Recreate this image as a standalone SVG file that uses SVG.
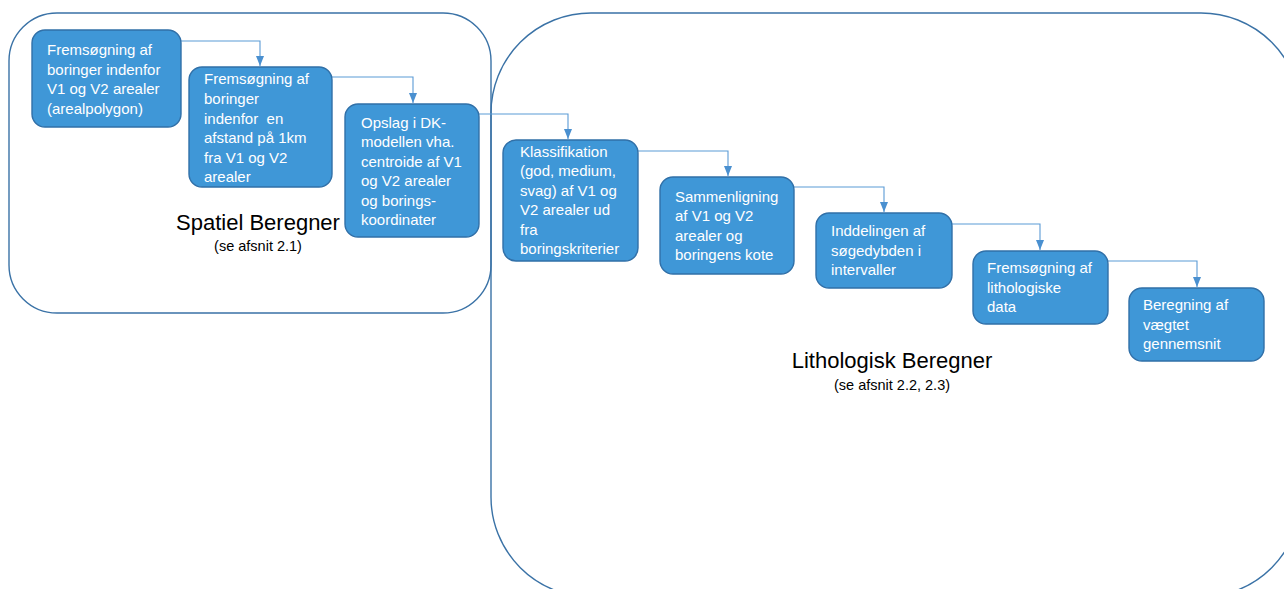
<svg xmlns="http://www.w3.org/2000/svg" width="1284" height="589" viewBox="0 0 1284 589">
<defs>
<style>
.cont{fill:none;stroke:#3A72A6;stroke-width:1.4}
.node rect{fill:#3F97D7;stroke:#3170A8;stroke-width:1.4}
.node text{fill:#FFFFFF;font-family:"Liberation Sans",Arial,sans-serif;font-size:15px}
.title{fill:#000;font-family:"Liberation Sans",Arial,sans-serif;font-size:22px;text-anchor:middle}
.sub{fill:#000;font-family:"Liberation Sans",Arial,sans-serif;font-size:14.5px;text-anchor:middle}
.conn path{fill:none;stroke:#5B9BD5;stroke-width:1.1}
</style>
<marker id="arr" markerWidth="10" markerHeight="8" viewBox="0 0 10 8" refX="10" refY="4" orient="auto" markerUnits="userSpaceOnUse">
<path d="M0,0 L10,4 L0,8 Z" fill="#4A90D0"/>
</marker>
</defs>
<rect width="1284" height="589" fill="#FFFFFF"/>
<g id="containers">
<rect id="spatiel" class="cont" x="9" y="13" width="482" height="300" rx="48" ry="48"/>
<rect id="lithologisk" class="cont" x="491" y="13" width="810" height="584" rx="100" ry="100"/>
<text class="title" x="258" y="230">Spatiel Beregner</text>
<text class="sub" x="258" y="251">(se afsnit 2.1)</text>
<text class="title" x="892" y="368">Lithologisk Beregner</text>
<text class="sub" x="892" y="390">(se afsnit 2.2, 2.3)</text>
</g>
<g id="connectors" class="conn">
<path d="M181,41 H260 V66" marker-end="url(#arr)"/>
<path d="M332,77 H413 V103" marker-end="url(#arr)"/>
<path d="M479,114 H568 V139" marker-end="url(#arr)"/>
<path d="M638,151 H728 V176" marker-end="url(#arr)"/>
<path d="M794,187 H884 V212" marker-end="url(#arr)"/>
<path d="M952,224 H1040 V250" marker-end="url(#arr)"/>
<path d="M1108,261 H1197 V287" marker-end="url(#arr)"/>
</g>
<g id="n1" class="node">
<rect x="32" y="30" width="149" height="97" rx="13"/>
<text x="47" y="55">Fremsøgning af</text>
<text x="47" y="75">boringer indenfor</text>
<text x="47" y="94">V1 og V2 arealer</text>
<text x="47" y="114">(arealpolygon)</text>
</g>
<g id="n2" class="node">
<rect x="189" y="67" width="143" height="120" rx="13"/>
<text x="204" y="84">Fremsøgning af</text>
<text x="204" y="104">boringer</text>
<text x="204" y="124" xml:space="preserve">indenfor  en</text>
<text x="204" y="143">afstand på 1km</text>
<text x="204" y="163">fra V1 og V2</text>
<text x="204" y="182">arealer</text>
</g>
<g id="n3" class="node">
<rect x="345" y="104" width="134" height="133" rx="13"/>
<text x="361" y="128">Opslag i DK-</text>
<text x="361" y="147">modellen vha.</text>
<text x="361" y="167">centroide af V1</text>
<text x="361" y="186">og V2 arealer</text>
<text x="361" y="206">og borings-</text>
<text x="361" y="225">koordinater</text>
</g>
<g id="n4" class="node">
<rect x="503" y="140" width="135" height="121" rx="13"/>
<text x="520" y="157">Klassifikation</text>
<text x="520" y="176">(god, medium,</text>
<text x="520" y="196">svag) af V1 og</text>
<text x="520" y="215">V2 arealer ud</text>
<text x="520" y="235">fra</text>
<text x="520" y="254">boringskriterier</text>
</g>
<g id="n5" class="node">
<rect x="660" y="177" width="134" height="97" rx="13"/>
<text x="675" y="202">Sammenligning</text>
<text x="675" y="221">af V1 og V2</text>
<text x="675" y="241">arealer og</text>
<text x="675" y="260">boringens kote</text>
</g>
<g id="n6" class="node">
<rect x="816" y="213" width="136" height="75" rx="13"/>
<text x="831" y="236">Inddelingen af</text>
<text x="831" y="256">søgedybden i</text>
<text x="831" y="275">intervaller</text>
</g>
<g id="n7" class="node">
<rect x="973" y="251" width="135" height="73" rx="13"/>
<text x="987" y="273">Fremsøgning af</text>
<text x="987" y="293">lithologiske</text>
<text x="987" y="312">data</text>
</g>
<g id="n8" class="node">
<rect x="1129" y="288" width="135" height="73" rx="13"/>
<text x="1143" y="310">Beregning af</text>
<text x="1143" y="330">vægtet</text>
<text x="1143" y="349">gennemsnit</text>
</g>
</svg>
